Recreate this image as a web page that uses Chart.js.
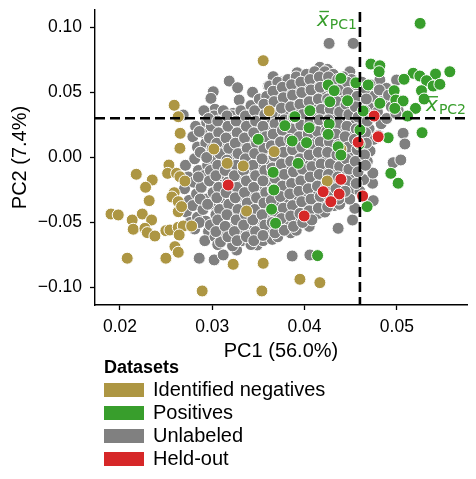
<!DOCTYPE html>
<html>
<head>
<meta charset="utf-8">
<script src="https://cdn.jsdelivr.net/npm/chart.js@4/dist/chart.umd.min.js"></script>
<style>
  html, body { margin:0; padding:0; background:#fff; }
  #wrap { position:relative; width:476px; height:479px; }
  #legend { position:absolute; left:104px; top:356px; font-family:"Liberation Sans", Arial, sans-serif; color:#000; }
  #legend .ttl { font-weight:bold; font-size:18px; line-height:22px; height:22px; }
  #legend .item { display:flex; align-items:center; height:23px; }
  #legend .sw { width:40px; height:14px; margin-right:9px; }
  #legend .lbl { font-size:20px; line-height:23px; }
</style>
</head>
<body>
<div id="wrap">
  <canvas id="c" width="476" height="479"></canvas>
  <div id="legend"></div>
</div>
<script>
// ---- data (PC1, PC2) ----
const xTicks = [0.02, 0.03, 0.04, 0.05];
const yTicks = [-0.10, -0.05, 0.00, 0.05, 0.10];
const meanPC1 = 0.0460;
const meanPC2 = 0.0302;

const negatives = [
  [0.03552,0.0745],[0.02588,0.0402],[0.02632,0.0314],[0.03617,0.0358],[0.02653,0.0186],
  [0.03018,0.0065],[0.0265,0.0071],[0.03671,0.0045],[0.04394,0.0065],[0.02531,-0.0058],
  [0.03162,-0.0045],[0.03336,-0.0065],[0.02177,-0.0129],[0.0235,-0.0173],[0.02278,-0.0229],
  [0.02517,-0.0122],[0.02614,-0.0122],[0.0265,-0.0148],[0.02704,-0.0181],[0.02588,-0.0271],
  [0.02563,-0.0304],[0.02632,-0.034],[0.02317,-0.0332],[0.02632,-0.0417],[0.02668,-0.0378],
  [0.03372,-0.0412],[0.01903,-0.0435],[0.01982,-0.0442],[0.02242,-0.0435],[0.02133,-0.0481],
  [0.02343,-0.0481],[0.02144,-0.0552],[0.02271,-0.0545],[0.02296,-0.0578],[0.02379,-0.0604],
  [0.02498,-0.0563],[0.02542,-0.0558],[0.02632,-0.0537],[0.02686,-0.0527],[0.02777,-0.0527],
  [0.02642,-0.0596],[0.02596,-0.0686],[0.02632,-0.0729],[0.02079,-0.0775],[0.02498,-0.0775],
  [0.03227,-0.0822],[0.03552,-0.0814],[0.02891,-0.1027],[0.03538,-0.1027],[0.04246,-0.0181],
  [0.0395,-0.0937],[0.04166,-0.0963]
];

const positives = [
  [0.05252,0.1032],[0.04719,0.0719],[0.04816,0.0706],[0.04808,0.0660],[0.05177,0.0648],
  [0.05249,0.0627],[0.05419,0.0642],[0.05574,0.0660],[0.05322,0.0591],[0.05393,0.0550],
  [0.05466,0.0563],[0.05078,0.0602],[0.04394,0.0609],[0.04256,0.0558],[0.04321,0.0514],
  [0.04556,0.0575],[0.04689,0.0558],[0.04971,0.0514],[0.05267,0.0514],[0.04989,0.0442],
  [0.05068,0.0435],[0.05295,0.0450],[0.05202,0.0378],[0.04466,0.0437],[0.04274,0.0429],
  [0.04058,0.0360],[0.04635,0.0358],[0.04816,0.0417],[0.05116,0.0319],[0.03787,0.0245],
  [0.03895,0.0314],[0.0405,0.0229],[0.04267,0.0258],[0.04256,0.0178],[0.03866,0.0127],
  [0.04022,0.0114],[0.04364,0.0083],[0.04906,0.0152],[0.05273,0.0191],[0.03498,0.0140],
  [0.0366,-0.0114],[0.03668,-0.0250],[0.03643,-0.0398],[0.03686,-0.0506],[0.03931,-0.0045],
  [0.04935,-0.0122],[0.05014,-0.0198],[0.04678,-0.0378],[0.04141,-0.0755],[0.04592,0.0104],
  [0.04978,0.0378],[0.0460,0.0212],[0.04394,0.0019]
];

const heldOut = [
  [0.04754,0.0319],[0.04798,0.0160],[0.04581,0.0117],[0.03173,-0.0212],[0.04394,-0.0168],
  [0.04202,-0.0263],[0.04375,-0.0281],[0.04285,-0.0340],[0.04629,-0.0296],[0.03996,-0.0450]
];

const unlabeled = [
  // scattered points round the cloud
  [0.03184,0.0588],[0.03275,0.0537],[0.03011,0.0506],[0.02986,0.0455],[0.03292,0.0442],
  [0.03437,0.0502],[0.0366,0.0622],[0.03606,0.0550],[0.03733,0.0583],[0.04266,0.0878],
  [0.04527,0.0878],[0.0392,0.0652],[0.04166,0.0694],[0.04249,0.0678],[0.04148,0.0622],
  [0.04491,0.0660],[0.04816,0.0596],[0.04997,0.0596],[0.04888,0.0532],[0.0487,0.0468],
  [0.05014,0.0365],[0.05068,0.0186],[0.05087,0.0104],[0.0496,-0.0040],[0.05043,-0.0019],
  [0.04737,-0.0198],[0.04744,-0.0332],[0.0452,-0.0481],[0.04364,-0.0545],[0.03866,-0.0758],
  [0.04058,-0.0750],[0.04592,-0.0160],[0.04545,-0.0391],[0.02859,-0.0775],[0.03021,-0.0788],
  [0.03119,-0.0750],[0.03264,-0.0712],[0.03487,-0.0673],[0.02686,0.0327],[0.02986,0.0327],
  [0.03029,0.0371],[0.03227,0.0340],[0.03372,0.0327],[0.03552,0.0319],
  // dense core
  [0.0271,-0.006],[0.0274,-0.015],[0.0270,-0.024],[0.0275,-0.033],[0.0272,-0.042],[0.0276,-0.050],
  [0.0282,0.024],[0.0279,0.016],[0.0284,0.008],[0.0281,-0.001],[0.0285,-0.010],[0.0280,-0.019],[0.0283,-0.028],[0.0279,-0.037],[0.0284,-0.046],[0.0281,-0.055],
  [0.0291,0.036],[0.0294,0.027],[0.0289,0.019],[0.0293,0.011],[0.0290,0.003],[0.0295,-0.006],[0.0291,-0.014],[0.0288,-0.023],[0.0294,-0.032],[0.0290,-0.040],[0.0293,-0.049],[0.0296,-0.057],[0.0292,-0.064],
  [0.0302,0.032],[0.0299,0.024],[0.0304,0.015],[0.0300,0.007],[0.0303,-0.002],[0.0298,-0.010],[0.0305,-0.019],[0.0301,-0.027],[0.0298,-0.036],[0.0304,-0.044],[0.0300,-0.053],[0.0303,-0.061],[0.0306,-0.067],
  [0.0312,0.036],[0.0309,0.028],[0.0314,0.020],[0.0310,0.011],[0.0313,0.003],[0.0308,-0.006],[0.0315,-0.014],[0.0311,-0.023],[0.0309,-0.031],[0.0314,-0.040],[0.0310,-0.048],[0.0313,-0.057],[0.0309,-0.065],
  [0.0321,0.032],[0.0324,0.024],[0.0319,0.015],[0.0323,0.007],[0.0320,-0.001],[0.0325,-0.010],[0.0321,-0.018],[0.0318,-0.027],[0.0323,-0.035],[0.0320,-0.044],[0.0324,-0.052],[0.0319,-0.061],[0.0322,-0.068],
  [0.0331,0.036],[0.0334,0.028],[0.0329,0.020],[0.0333,0.011],[0.0330,0.003],[0.0335,-0.005],[0.0331,-0.014],[0.0328,-0.022],[0.0334,-0.031],[0.0330,-0.039],[0.0333,-0.048],[0.0329,-0.056],[0.0332,-0.064],
  [0.0342,0.040],[0.0339,0.032],[0.0344,0.024],[0.0340,0.015],[0.0343,0.007],[0.0338,-0.001],[0.0345,-0.010],[0.0341,-0.018],[0.0339,-0.027],[0.0344,-0.035],[0.0340,-0.044],[0.0343,-0.052],[0.0338,-0.060],[0.0342,-0.067],
  [0.0351,0.045],[0.0354,0.037],[0.0349,0.028],[0.0353,0.020],[0.0350,0.012],[0.0355,0.003],[0.0351,-0.005],[0.0348,-0.014],[0.0354,-0.022],[0.0350,-0.031],[0.0353,-0.039],[0.0349,-0.048],[0.0352,-0.056],[0.0355,-0.064],
  [0.0362,0.055],[0.0359,0.047],[0.0364,0.039],[0.0360,0.030],[0.0363,0.022],[0.0358,0.014],[0.0365,0.005],[0.0361,-0.003],[0.0359,-0.012],[0.0364,-0.020],[0.0360,-0.029],[0.0363,-0.037],[0.0358,-0.046],[0.0362,-0.054],[0.0365,-0.063],
  [0.0371,0.058],[0.0374,0.050],[0.0369,0.042],[0.0373,0.033],[0.0370,0.025],[0.0375,0.016],[0.0371,0.008],[0.0368,-0.001],[0.0374,-0.009],[0.0370,-0.018],[0.0373,-0.026],[0.0369,-0.035],[0.0372,-0.043],[0.0375,-0.052],[0.0371,-0.061],
  [0.0382,0.060],[0.0379,0.052],[0.0384,0.043],[0.0380,0.035],[0.0383,0.027],[0.0378,0.018],[0.0385,0.010],[0.0381,0.001],[0.0379,-0.007],[0.0384,-0.016],[0.0380,-0.024],[0.0383,-0.033],[0.0378,-0.041],[0.0382,-0.050],[0.0385,-0.058],
  [0.0391,0.062],[0.0394,0.054],[0.0389,0.046],[0.0393,0.037],[0.0390,0.029],[0.0395,0.021],[0.0391,0.012],[0.0388,0.004],[0.0394,-0.005],[0.0390,-0.013],[0.0393,-0.022],[0.0389,-0.030],[0.0392,-0.039],[0.0395,-0.047],[0.0391,-0.056],
  [0.0402,0.064],[0.0399,0.056],[0.0404,0.047],[0.0400,0.039],[0.0403,0.031],[0.0398,0.022],[0.0405,0.014],[0.0401,0.006],[0.0399,-0.003],[0.0404,-0.011],[0.0400,-0.020],[0.0403,-0.028],[0.0398,-0.037],[0.0402,-0.045],[0.0405,-0.053],
  [0.0411,0.066],[0.0414,0.058],[0.0409,0.050],[0.0413,0.041],[0.0410,0.033],[0.0415,0.025],[0.0411,0.016],[0.0408,0.008],[0.0414,-0.001],[0.0410,-0.009],[0.0413,-0.018],[0.0409,-0.026],[0.0412,-0.035],[0.0415,-0.043],
  [0.0422,0.066],[0.0419,0.058],[0.0424,0.049],[0.0420,0.041],[0.0423,0.033],[0.0418,0.024],[0.0425,0.016],[0.0421,0.008],[0.0419,-0.001],[0.0424,-0.009],[0.0420,-0.018],[0.0423,-0.026],[0.0418,-0.034],[0.0422,-0.042],
  [0.0431,0.064],[0.0434,0.056],[0.0429,0.047],[0.0433,0.039],[0.0430,0.031],[0.0435,0.022],[0.0431,0.014],[0.0428,0.006],[0.0434,-0.003],[0.0430,-0.011],[0.0433,-0.020],[0.0429,-0.028],[0.0432,-0.037],
  [0.0442,0.062],[0.0439,0.054],[0.0444,0.045],[0.0440,0.037],[0.0443,0.029],[0.0438,0.020],[0.0445,0.012],[0.0441,0.004],[0.0439,-0.005],[0.0444,-0.013],[0.0440,-0.022],[0.0443,-0.030],[0.0438,-0.036],
  [0.0451,0.060],[0.0454,0.052],[0.0449,0.043],[0.0453,0.035],[0.0450,0.027],[0.0455,0.018],[0.0451,0.010],[0.0448,0.002],[0.0454,-0.007],[0.0450,-0.015],[0.0453,-0.024],[0.0449,-0.032],
  [0.0462,0.058],[0.0459,0.050],[0.0464,0.041],[0.0460,0.033],[0.0463,0.025],[0.0458,0.016],[0.0465,0.008],[0.0461,0.000],[0.0459,-0.009],[0.0464,-0.017],[0.0460,-0.026],
  [0.0471,0.056],[0.0474,0.047],[0.0469,0.039],[0.0473,0.031],[0.0470,0.022],[0.0475,0.014],[0.0471,0.005],[0.0468,-0.003],[0.0474,-0.012],
  [0.0481,0.052],[0.0484,0.043],[0.0479,0.035],[0.0483,0.026],[0.0480,0.017],
  [0.0491,0.048],[0.0494,0.039],[0.0489,0.030],
  [0.0502,0.044],[0.0499,0.034],
  // second, offset layer in the densest part
  [0.0286,0.020],[0.0287,0.004],[0.0285,-0.015],[0.0287,-0.032],[0.0286,-0.050],
  [0.0296,0.030],[0.0297,0.015],[0.0294,0.000],[0.0297,-0.018],[0.0295,-0.036],[0.0298,-0.052],
  [0.0306,0.028],[0.0307,0.019],[0.0305,0.011],[0.0308,0.003],[0.0306,-0.006],[0.0304,-0.014],[0.0307,-0.023],[0.0305,-0.031],[0.0308,-0.040],[0.0306,-0.048],[0.0304,-0.057],
  [0.0316,0.032],[0.0317,0.024],[0.0315,0.015],[0.0318,0.007],[0.0316,-0.002],[0.0314,-0.010],[0.0317,-0.019],[0.0315,-0.027],[0.0318,-0.036],[0.0316,-0.044],[0.0314,-0.053],[0.0317,-0.061],
  [0.0326,0.028],[0.0327,0.019],[0.0325,0.011],[0.0328,0.003],[0.0326,-0.006],[0.0324,-0.014],[0.0327,-0.023],[0.0325,-0.031],[0.0328,-0.040],[0.0326,-0.048],[0.0324,-0.057],[0.0327,-0.064],
  [0.0336,0.032],[0.0337,0.024],[0.0335,0.015],[0.0338,0.007],[0.0336,-0.001],[0.0334,-0.010],[0.0337,-0.018],[0.0335,-0.027],[0.0338,-0.035],[0.0336,-0.044],[0.0334,-0.052],[0.0337,-0.061],
  [0.0346,0.036],[0.0347,0.028],[0.0345,0.019],[0.0348,0.011],[0.0346,0.003],[0.0344,-0.006],[0.0347,-0.014],[0.0345,-0.023],[0.0348,-0.031],[0.0346,-0.040],[0.0344,-0.048],[0.0347,-0.057],[0.0345,-0.064],
  [0.0356,0.041],[0.0357,0.033],[0.0355,0.024],[0.0358,0.016],[0.0356,0.007],[0.0354,-0.001],[0.0357,-0.010],[0.0355,-0.018],[0.0358,-0.027],[0.0356,-0.035],[0.0354,-0.044],[0.0357,-0.052],[0.0355,-0.060],
  [0.0366,0.051],[0.0367,0.043],[0.0365,0.034],[0.0368,0.026],[0.0366,0.018],[0.0364,0.009],[0.0367,0.001],[0.0365,-0.008],[0.0368,-0.016],[0.0366,-0.025],[0.0364,-0.033],[0.0367,-0.042],[0.0365,-0.050],[0.0368,-0.058],
  [0.0376,0.054],[0.0377,0.046],[0.0375,0.038],[0.0378,0.029],[0.0376,0.021],[0.0374,0.012],[0.0377,0.004],[0.0375,-0.005],[0.0378,-0.013],[0.0376,-0.022],[0.0374,-0.030],[0.0377,-0.039],[0.0375,-0.047],[0.0378,-0.056],
  [0.0386,0.056],[0.0387,0.048],[0.0385,0.039],[0.0388,0.031],[0.0386,0.022],[0.0384,0.014],[0.0387,0.006],[0.0385,-0.003],[0.0388,-0.011],[0.0386,-0.020],[0.0384,-0.028],[0.0387,-0.037],[0.0385,-0.045],[0.0388,-0.053],
  [0.0396,0.058],[0.0397,0.050],[0.0395,0.041],[0.0398,0.033],[0.0396,0.025],[0.0394,0.016],[0.0397,0.008],[0.0395,-0.001],[0.0398,-0.009],[0.0396,-0.018],[0.0394,-0.026],[0.0397,-0.034],[0.0395,-0.043],[0.0398,-0.050],
  [0.0406,0.060],[0.0407,0.052],[0.0405,0.043],[0.0408,0.035],[0.0406,0.027],[0.0404,0.018],[0.0407,0.010],[0.0405,0.002],[0.0408,-0.007],[0.0406,-0.015],[0.0404,-0.024],[0.0407,-0.032],[0.0405,-0.041],[0.0408,-0.048],
  [0.0416,0.062],[0.0417,0.054],[0.0415,0.045],[0.0418,0.037],[0.0416,0.029],[0.0414,0.020],[0.0417,0.012],[0.0415,0.004],[0.0418,-0.005],[0.0416,-0.013],[0.0414,-0.022],[0.0417,-0.030],[0.0415,-0.039],
  [0.0426,0.062],[0.0427,0.054],[0.0425,0.045],[0.0428,0.037],[0.0426,0.029],[0.0424,0.020],[0.0427,0.012],[0.0425,0.004],[0.0428,-0.005],[0.0426,-0.013],[0.0424,-0.022],[0.0427,-0.030],[0.0425,-0.038],
  [0.0436,0.060],[0.0437,0.052],[0.0435,0.043],[0.0438,0.035],[0.0436,0.026],[0.0434,0.018],[0.0437,0.010],[0.0435,0.002],[0.0438,-0.007],[0.0436,-0.015],[0.0434,-0.024],[0.0437,-0.032],
  [0.0446,0.058],[0.0447,0.050],[0.0445,0.041],[0.0448,0.033],[0.0446,0.024],[0.0444,0.016],[0.0447,0.008],[0.0445,-0.001],[0.0448,-0.009],[0.0446,-0.018],[0.0444,-0.026],
  [0.0456,0.056],[0.0457,0.047],[0.0455,0.039],[0.0458,0.031],[0.0456,0.022],[0.0454,0.014],[0.0457,0.006],[0.0455,-0.003],[0.0458,-0.011],[0.0456,-0.020],
  [0.0466,0.053],[0.0467,0.045],[0.0465,0.036],[0.0468,0.028],[0.0466,0.019],[0.0467,0.011],[0.0465,0.002],[0.0466,-0.006]
];

const seriesNames = ['Identified negatives', 'Positives', 'Unlabeled', 'Held-out'];
const seriesColors = ['#ad9643', '#389e2c', '#808080', '#d62728'];

// ---- legend (HTML text) ----
const leg = document.getElementById('legend');
leg.innerHTML = '<div class="ttl">Datasets</div>' + seriesNames.map((n, i) =>
  '<div class="item"><span class="sw" style="background:' + seriesColors[i] + '"></span><span class="lbl">' + n + '</span></div>').join('');

const FONT = '"Liberation Sans", Arial, sans-serif';
const toPts = arr => arr.map(p => ({x: p[0], y: p[1]}));
const mk = (idx, arr) => ({
  label: seriesNames[idx], data: toPts(arr),
  backgroundColor: seriesColors[idx], borderColor: '#ffffff', borderWidth: 1,
  pointRadius: 6, pointHoverRadius: 6
});

const meanPlugin = {
  id: 'meanLines',
  afterDatasetsDraw(chart) {
    const {ctx, chartArea: a, scales: {x, y}} = chart;
    const px = x.getPixelForValue(meanPC1);
    const py = y.getPixelForValue(meanPC2);
    ctx.save();
    ctx.strokeStyle = '#000'; ctx.lineWidth = 2.6; ctx.setLineDash([10, 5]);
    ctx.beginPath(); ctx.moveTo(px, a.top + 2); ctx.lineTo(px, a.bottom); ctx.stroke();
    ctx.beginPath(); ctx.moveTo(a.left, py); ctx.lineTo(a.right, py); ctx.stroke();
    ctx.setLineDash([]);
    const green = seriesColors[1];
    const drawLbl = (sub, right, base) => {
      ctx.font = 'italic 20px "DejaVu Sans"';
      const wx = ctx.measureText('x').width;
      ctx.font = '14px "DejaVu Sans"';
      const ws = ctx.measureText(sub).width;
      const left = right - wx - ws - 1;
      ctx.fillStyle = green; ctx.strokeStyle = green;
      ctx.textAlign = 'left'; ctx.textBaseline = 'alphabetic';
      ctx.font = 'italic 20px "DejaVu Sans"';
      ctx.fillText('x', left, base);
      ctx.lineWidth = 1.4;
      ctx.beginPath(); ctx.moveTo(left + 2.5, base - 14.5); ctx.lineTo(left + 12, base - 14.5); ctx.stroke();
      ctx.font = '14px "DejaVu Sans"';
      ctx.fillText(sub, left + wx + 1, base + 3);
    };
    drawLbl('PC1', px - 3, 26);
    drawLbl('PC2', a.right - 1, py - 7);
    ctx.restore();
  }
};

new Chart(document.getElementById('c'), {
  type: 'scatter',
  data: {
    datasets: [mk(3, heldOut), mk(1, positives), mk(0, negatives), mk(2, unlabeled)]
  },
  options: {
    responsive: false, animation: false, devicePixelRatio: 1,
    layout: { padding: { left: 8, top: 10, right: 9, bottom: 116 } },
    plugins: { legend: { display: false }, tooltip: { enabled: false } },
    scales: {
      x: {
        type: 'linear', min: 0.0173, max: 0.0576,
        afterBuildTicks: s => { s.ticks = xTicks.map(v => ({value: v})); },
        afterFit: s => { s.height = 58; s.paddingLeft = 0; s.paddingRight = 0; },
        grid: { drawOnChartArea: false, drawTicks: true, tickLength: 5, color: '#000', tickWidth: 1.3 },
        border: { color: '#000', width: 1.4 },
        ticks: { color: '#000', font: { family: FONT, size: 17.5 }, padding: 7, maxRotation: 0,
                 callback: v => v.toFixed(2) },
        title: { display: true, text: 'PC1 (56.0%)', color: '#000', font: { family: FONT, size: 20 }, padding: 0 }
      },
      y: {
        type: 'linear', min: -0.1135, max: 0.1135,
        afterBuildTicks: s => { s.ticks = yTicks.map(v => ({value: v})); },
        afterFit: s => { s.width = 87; s.paddingTop = 0; s.paddingBottom = 0; },
        grid: { drawOnChartArea: false, drawTicks: true, tickLength: 5, color: '#000', tickWidth: 1.3 },
        border: { color: '#000', width: 1.4 },
        ticks: { color: '#000', font: { family: FONT, size: 17.5 }, padding: 8,
                 callback: v => (v < 0 ? '\u2212' : '') + Math.abs(v).toFixed(2) },
        title: { display: true, text: 'PC2 (7.4%)', color: '#000', font: { family: FONT, size: 20 }, padding: 0 }
      }
    }
  },
  plugins: [meanPlugin]
});
</script>
</body>
</html>
